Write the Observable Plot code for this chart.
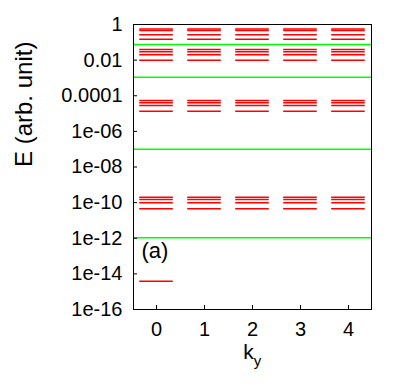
<!DOCTYPE html>
<html>
<head>
<meta charset="utf-8">
<script src="https://cdn.jsdelivr.net/npm/d3@7"></script>
<script src="https://cdn.jsdelivr.net/npm/@observablehq/plot@0.6"></script>
<style>
  html, body { margin: 0; padding: 0; background: #fff; }
</style>
</head>
<body>
<div id="chart"></div>
<script>
// ky values (categories)
const kyValues = [0, 1, 2, 3, 4];
// energy levels present at every ky (arb. unit)
const levelsGroup1 = [0.56, 0.46, 0.27, 0.15];
const levelsGroup2 = [0.04, 0.03, 0.02, 0.01];
const levelsGroup3 = [5.4e-5, 4.0e-5, 2.8e-5, 1.35e-5];
const levelsGroup4 = [2.0e-10, 1.5e-10, 1.0e-10, 4.6e-11];
// isolated level only at ky = 0
const isolatedKy = [0];
const isolatedLevel = [3.8e-15];
// green reference lines
const greenLevels = [0.075, 1.1e-3, 1.0e-7, 1.05e-12];
// y tick values and labels
const yTicks = [1, 1e-2, 1e-4, 1e-6, 1e-8, 1e-10, 1e-12, 1e-14, 1e-16];
const yTickLabels = ["1", "0.01", "0.0001", "1e-06", "1e-08", "1e-10", "1e-12", "1e-14", "1e-16"];
const xTicks = [0, 1, 2, 3, 4];

const allLevels = [...levelsGroup1, ...levelsGroup2, ...levelsGroup3, ...levelsGroup4];
const segments = [];
for (const ky of kyValues) for (const E of allLevels) segments.push({ky, E});
isolatedKy.forEach((ky, i) => segments.push({ky, E: isolatedLevel[i]}));

const half = 0.35;
const font = "'Liberation Sans', Arial, Helvetica, sans-serif";

const chart = Plot.plot({
  width: 407,
  height: 392,
  marginLeft: 133,
  marginRight: 36,
  marginTop: 24,
  marginBottom: 83,
  style: {fontFamily: font, background: "#fff", color: "#000"},
  x: {domain: [-0.48, 4.48]},
  y: {type: "log", domain: [1e-16, 1]},
  marks: [
    Plot.ruleY(greenLevels, {stroke: "#00ff00", strokeWidth: 1.5}),
    Plot.ruleY(segments, {y: "E", x1: d => d.ky - half, x2: d => d.ky + half, stroke: "#ff0000", strokeWidth: 1.5}),
    Plot.frame({stroke: "#000", strokeWidth: 1}),
    // inward tick marks
    Plot.axisY({ticks: yTicks, tickSize: 4, dx: 4, tickFormat: () => "", label: null}),
    Plot.axisX({ticks: xTicks, tickSize: 4, dy: -4, tickFormat: () => "", label: null}),
    // tick labels
    Plot.axisY({ticks: yTicks, tickSize: 0, tickPadding: 11, fontSize: 20, label: null,
      tickFormat: d => yTickLabels[yTicks.indexOf(d)]}),
    Plot.axisX({ticks: xTicks, tickSize: 0, tickPadding: 12, fontSize: 20, label: null,
      tickFormat: d => String(d)}),
    // axis titles
    Plot.text(["E (arb. unit)"], {frameAnchor: "left", dx: -109, rotate: -90, fontSize: 24, text: d => d}),
    Plot.text(["k"], {frameAnchor: "bottom", dx: -4, dy: 49, fontSize: 21, text: d => d}),
    Plot.text(["y"], {frameAnchor: "bottom", dx: 5, dy: 56, fontSize: 15, text: d => d}),
    Plot.text(["(a)"], {frameAnchor: "bottom-left", textAnchor: "start", dx: 8, dy: -52, fontSize: 22, text: d => d})
  ]
});
document.getElementById("chart").appendChild(chart);
</script>
</body>
</html>
